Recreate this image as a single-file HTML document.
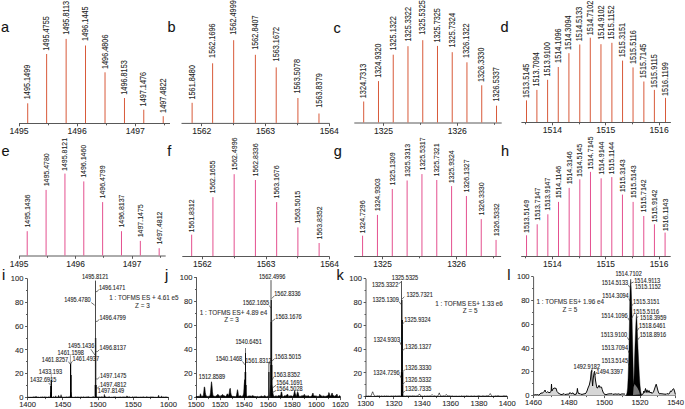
<!DOCTYPE html>
<html><head><meta charset="utf-8"><style>
html,body{margin:0;padding:0;background:#fff;}
body{width:685px;height:409px;overflow:hidden;}
svg{display:block;font-family:"Liberation Sans", sans-serif;}
text{stroke:#222;stroke-width:0.08px;}
text.L{stroke-width:0.1px;}
</style></head><body>
<svg width="685" height="409" viewBox="0 0 685 409">
<rect width="685" height="409" fill="#fff"/>
<path d="M19 123.5H170" stroke="#585858" stroke-width="1" fill="none"/>
<path d="M19.5 123.5V126.3M77.5 123.5V126.3M135.5 123.5V126.3M48.5 123.5V125.3M106.5 123.5V125.3M164.5 123.5V125.3" stroke="#585858" stroke-width="1" fill="none"/>
<text transform="translate(19 134.3) scale(1 1.1)" font-size="8.61" text-anchor="middle" fill="#1e1e1e">1495</text>
<text transform="translate(77.1 134.3) scale(1 1.1)" font-size="8.61" text-anchor="middle" fill="#1e1e1e">1496</text>
<text transform="translate(135.2 134.3) scale(1 1.1)" font-size="8.61" text-anchor="middle" fill="#1e1e1e">1497</text>
<path d="M27.71 123V103.3M46.63 123V54M66.14 123V38.9M85.5 123V45.5M105.02 123V72.3M124.47 123V98M143.78 123V109.7M163.22 123V116.2" stroke="#d85a3a" stroke-width="1" fill="none"/>
<text transform="translate(30.26 99.2) rotate(-90) scale(1 1.15)" font-size="7.3" fill="#1e1e1e">1495.1499</text>
<text transform="translate(49.18 50.7) rotate(-90) scale(1 1.15)" font-size="7.3" fill="#1e1e1e">1495.4755</text>
<text transform="translate(68.69 34.8) rotate(-90) scale(1 1.15)" font-size="7.3" fill="#1e1e1e">1495.8113</text>
<text transform="translate(88.05 40.9) rotate(-90) scale(1 1.15)" font-size="7.3" fill="#1e1e1e">1496.1445</text>
<text transform="translate(107.57 69) rotate(-90) scale(1 1.15)" font-size="7.3" fill="#1e1e1e">1496.4806</text>
<text transform="translate(127.02 94.7) rotate(-90) scale(1 1.15)" font-size="7.3" fill="#1e1e1e">1496.8153</text>
<text transform="translate(146.33 106.4) rotate(-90) scale(1 1.15)" font-size="7.3" fill="#1e1e1e">1497.1476</text>
<text transform="translate(165.77 112.9) rotate(-90) scale(1 1.15)" font-size="7.3" fill="#1e1e1e">1497.4822</text>
<path d="M181.5 123.4H329.6" stroke="#585858" stroke-width="1" fill="none"/>
<path d="M201.5 123.4V126.2M265.5 123.4V126.2M329.5 123.4V126.2M233.5 123.4V125.2M297.5 123.4V125.2" stroke="#585858" stroke-width="1" fill="none"/>
<text transform="translate(201.8 134.2) scale(1 1.1)" font-size="8.61" text-anchor="middle" fill="#1e1e1e">1562</text>
<text transform="translate(265.55 134.2) scale(1 1.1)" font-size="8.61" text-anchor="middle" fill="#1e1e1e">1563</text>
<text transform="translate(329.3 134.2) scale(1 1.1)" font-size="8.61" text-anchor="middle" fill="#1e1e1e">1564</text>
<path d="M192.11 122.9V102.8M212.61 122.9V63.3M233.67 122.9V40.2M255.39 122.9V54.8M276.21 122.9V67.4M297.92 122.9V98M318.97 122.9V113.5" stroke="#d85a3a" stroke-width="1" fill="none"/>
<text transform="translate(194.66 99.5) rotate(-90) scale(1 1.15)" font-size="7.3" fill="#1e1e1e">1561.8480</text>
<text transform="translate(215.16 57.9) rotate(-90) scale(1 1.15)" font-size="7.3" fill="#1e1e1e">1562.1696</text>
<text transform="translate(236.22 34.7) rotate(-90) scale(1 1.15)" font-size="7.3" fill="#1e1e1e">1562.4999</text>
<text transform="translate(257.94 49.8) rotate(-90) scale(1 1.15)" font-size="7.3" fill="#1e1e1e">1562.8407</text>
<text transform="translate(278.76 61.4) rotate(-90) scale(1 1.15)" font-size="7.3" fill="#1e1e1e">1563.1672</text>
<text transform="translate(300.47 93.5) rotate(-90) scale(1 1.15)" font-size="7.3" fill="#1e1e1e">1563.5078</text>
<text transform="translate(321.52 107.7) rotate(-90) scale(1 1.15)" font-size="7.3" fill="#1e1e1e">1563.8379</text>
<path d="M354.3 123H501.7" stroke="#585858" stroke-width="1" fill="none"/>
<path d="M383.5 123V125.8M457.5 123V125.8M420.5 123V124.8M494.5 123V124.8" stroke="#585858" stroke-width="1" fill="none"/>
<text transform="translate(383.5 133.8) scale(1 1.1)" font-size="8.61" text-anchor="middle" fill="#1e1e1e">1325</text>
<text transform="translate(457.2 133.8) scale(1 1.1)" font-size="8.61" text-anchor="middle" fill="#1e1e1e">1326</text>
<path d="M363.7 122.5V101.5M378.49 122.5V81.1M393.24 122.5V54.7M407.98 122.5V46.2M422.75 122.5V40.2M437.49 122.5V45.9M452.22 122.5V52.2M466.94 122.5V62.3M481.74 122.5V85.3M496.53 122.5V105.7" stroke="#d85a3a" stroke-width="1" fill="none"/>
<text transform="translate(366.25 98.2) rotate(-90) scale(1 1.15)" font-size="7.3" fill="#1e1e1e">1324.7313</text>
<text transform="translate(381.04 77.8) rotate(-90) scale(1 1.15)" font-size="7.3" fill="#1e1e1e">1324.9320</text>
<text transform="translate(395.79 50.6) rotate(-90) scale(1 1.15)" font-size="7.3" fill="#1e1e1e">1325.1322</text>
<text transform="translate(410.53 41.5) rotate(-90) scale(1 1.15)" font-size="7.3" fill="#1e1e1e">1325.3322</text>
<text transform="translate(425.3 34.7) rotate(-90) scale(1 1.15)" font-size="7.3" fill="#1e1e1e">1325.5325</text>
<text transform="translate(440.04 42.6) rotate(-90) scale(1 1.15)" font-size="7.3" fill="#1e1e1e">1325.7325</text>
<text transform="translate(454.77 47.5) rotate(-90) scale(1 1.15)" font-size="7.3" fill="#1e1e1e">1325.7324</text>
<text transform="translate(469.49 57.9) rotate(-90) scale(1 1.15)" font-size="7.3" fill="#1e1e1e">1326.1322</text>
<text transform="translate(484.29 82) rotate(-90) scale(1 1.15)" font-size="7.3" fill="#1e1e1e">1326.3330</text>
<text transform="translate(499.08 101.6) rotate(-90) scale(1 1.15)" font-size="7.3" fill="#1e1e1e">1326.5337</text>
<path d="M521.4 122.5H670.9" stroke="#585858" stroke-width="1" fill="none"/>
<path d="M552.5 122.5V125.3M605.5 122.5V125.3M659.5 122.5V125.3M525.5 122.5V124.3M579.5 122.5V124.3M632.5 122.5V124.3" stroke="#585858" stroke-width="1" fill="none"/>
<text transform="translate(552.4 133.3) scale(1 1.1)" font-size="8.61" text-anchor="middle" fill="#1e1e1e">1514</text>
<text transform="translate(605.75 133.3) scale(1 1.1)" font-size="8.61" text-anchor="middle" fill="#1e1e1e">1515</text>
<text transform="translate(659.1 133.3) scale(1 1.1)" font-size="8.61" text-anchor="middle" fill="#1e1e1e">1516</text>
<path d="M526.5 122V100.4M536.9 122V89.9M547.6 122V79.8M558.25 122V67M568.91 122V53.2M579.78 122V44.5M590.29 122V37.7M600.96 122V44.2M611.9 122V42.8M622.56 122V60.6M633.04 122V67.4M643.87 122V81.5M654.38 122V89.9M665.5 122V97.9" stroke="#d85a3a" stroke-width="1" fill="none"/>
<text transform="translate(529.05 98.1) rotate(-90) scale(1 1.15)" font-size="7.3" fill="#1e1e1e">1513.5145</text>
<text transform="translate(539.45 86.6) rotate(-90) scale(1 1.15)" font-size="7.3" fill="#1e1e1e">1513.7094</text>
<text transform="translate(550.15 76.5) rotate(-90) scale(1 1.15)" font-size="7.3" fill="#1e1e1e">1513.9100</text>
<text transform="translate(560.8 62.9) rotate(-90) scale(1 1.15)" font-size="7.3" fill="#1e1e1e">1514.1096</text>
<text transform="translate(571.46 49.9) rotate(-90) scale(1 1.15)" font-size="7.3" fill="#1e1e1e">1514.3094</text>
<text transform="translate(582.33 41.2) rotate(-90) scale(1 1.15)" font-size="7.3" fill="#1e1e1e">1514.5133</text>
<text transform="translate(592.84 35.2) rotate(-90) scale(1 1.15)" font-size="7.3" fill="#1e1e1e">1514.7102</text>
<text transform="translate(603.51 39.8) rotate(-90) scale(1 1.15)" font-size="7.3" fill="#1e1e1e">1514.9102</text>
<text transform="translate(614.45 39.5) rotate(-90) scale(1 1.15)" font-size="7.3" fill="#1e1e1e">1515.1152</text>
<text transform="translate(625.11 57.3) rotate(-90) scale(1 1.15)" font-size="7.3" fill="#1e1e1e">1515.3151</text>
<text transform="translate(635.59 64.1) rotate(-90) scale(1 1.15)" font-size="7.3" fill="#1e1e1e">1515.5116</text>
<text transform="translate(646.42 78.2) rotate(-90) scale(1 1.15)" font-size="7.3" fill="#1e1e1e">1515.7145</text>
<text transform="translate(656.93 88.1) rotate(-90) scale(1 1.15)" font-size="7.3" fill="#1e1e1e">1515.9115</text>
<text transform="translate(668.05 96.1) rotate(-90) scale(1 1.15)" font-size="7.3" fill="#1e1e1e">1516.1199</text>
<path d="M19.1 256H165.7" stroke="#585858" stroke-width="1" fill="none"/>
<path d="M19.5 256V258.8M75.5 256V258.8M132.5 256V258.8M47.5 256V257.8M103.5 256V257.8M160.5 256V257.8" stroke="#585858" stroke-width="1" fill="none"/>
<text transform="translate(19.1 266.8) scale(1 1.1)" font-size="8.4" text-anchor="middle" fill="#1e1e1e">1495</text>
<text transform="translate(75.55 266.8) scale(1 1.1)" font-size="8.4" text-anchor="middle" fill="#1e1e1e">1496</text>
<text transform="translate(132 266.8) scale(1 1.1)" font-size="8.4" text-anchor="middle" fill="#1e1e1e">1497</text>
<path d="M27.21 255.5V231.2M46.08 255.5V189.9M64.94 255.5V173.6M83.79 255.5V181.4M102.64 255.5V202.1M121.48 255.5V231.2M140.33 255.5V240.9M159.16 255.5V248.2" stroke="#e4508f" stroke-width="1" fill="none"/>
<text transform="translate(29.76 227.6) rotate(-90) scale(1 1.15)" font-size="7" fill="#1e1e1e">1495.1436</text>
<text transform="translate(48.63 186.3) rotate(-90) scale(1 1.15)" font-size="7" fill="#1e1e1e">1495.4780</text>
<text transform="translate(67.49 170.9) rotate(-90) scale(1 1.15)" font-size="7" fill="#1e1e1e">1495.8121</text>
<text transform="translate(86.34 177.8) rotate(-90) scale(1 1.15)" font-size="7" fill="#1e1e1e">1496.1460</text>
<text transform="translate(105.19 198.5) rotate(-90) scale(1 1.15)" font-size="7" fill="#1e1e1e">1496.4799</text>
<text transform="translate(124.03 227.6) rotate(-90) scale(1 1.15)" font-size="7" fill="#1e1e1e">1496.8137</text>
<text transform="translate(142.88 237.3) rotate(-90) scale(1 1.15)" font-size="7" fill="#1e1e1e">1497.1475</text>
<text transform="translate(161.71 244.6) rotate(-90) scale(1 1.15)" font-size="7" fill="#1e1e1e">1497.4812</text>
<path d="M182.3 256.5H329.6" stroke="#585858" stroke-width="1" fill="none"/>
<path d="M202.5 256.5V259.3M266.5 256.5V259.3M329.5 256.5V259.3M234.5 256.5V258.3M297.5 256.5V258.3" stroke="#585858" stroke-width="1" fill="none"/>
<text transform="translate(202.4 267.3) scale(1 1.1)" font-size="8.4" text-anchor="middle" fill="#1e1e1e">1562</text>
<text transform="translate(266 267.3) scale(1 1.1)" font-size="8.4" text-anchor="middle" fill="#1e1e1e">1563</text>
<text transform="translate(329.6 267.3) scale(1 1.1)" font-size="8.4" text-anchor="middle" fill="#1e1e1e">1564</text>
<path d="M191.66 256V234.7M212.93 256V197.2M234.17 256V174.2M255.42 256V180M276.66 256V202.1M297.9 256V227.4M319.12 256V243" stroke="#e4508f" stroke-width="1" fill="none"/>
<text transform="translate(194.21 232.4) rotate(-90) scale(1 1.15)" font-size="7" fill="#1e1e1e">1561.8312</text>
<text transform="translate(215.48 193.6) rotate(-90) scale(1 1.15)" font-size="7" fill="#1e1e1e">1562.1655</text>
<text transform="translate(236.72 170.6) rotate(-90) scale(1 1.15)" font-size="7" fill="#1e1e1e">1562.4996</text>
<text transform="translate(257.97 176.4) rotate(-90) scale(1 1.15)" font-size="7" fill="#1e1e1e">1562.8336</text>
<text transform="translate(279.21 198.5) rotate(-90) scale(1 1.15)" font-size="7" fill="#1e1e1e">1563.1676</text>
<text transform="translate(300.45 223.8) rotate(-90) scale(1 1.15)" font-size="7" fill="#1e1e1e">1563.5015</text>
<text transform="translate(321.67 239.4) rotate(-90) scale(1 1.15)" font-size="7" fill="#1e1e1e">1563.8352</text>
<path d="M354.1 256.5H501.1" stroke="#585858" stroke-width="1" fill="none"/>
<path d="M382.5 256.5V259.3M456.5 256.5V259.3M419.5 256.5V258.3M493.5 256.5V258.3" stroke="#585858" stroke-width="1" fill="none"/>
<text transform="translate(382.6 267.3) scale(1 1.1)" font-size="8.4" text-anchor="middle" fill="#1e1e1e">1325</text>
<text transform="translate(456.6 267.3) scale(1 1.1)" font-size="8.4" text-anchor="middle" fill="#1e1e1e">1326</text>
<path d="M362.59 256V235.7M377.44 256V214.9M392.29 256V189M407.12 256V180.5M421.95 256V174.1M436.78 256V180M451.6 256V186.1M466.42 256V196M481.24 256V219.1M496.06 256V239.9" stroke="#e4508f" stroke-width="1" fill="none"/>
<text transform="translate(365.14 233.4) rotate(-90) scale(1 1.15)" font-size="7" fill="#1e1e1e">1324.7296</text>
<text transform="translate(379.99 211.3) rotate(-90) scale(1 1.15)" font-size="7" fill="#1e1e1e">1324.9303</text>
<text transform="translate(394.84 185.4) rotate(-90) scale(1 1.15)" font-size="7" fill="#1e1e1e">1325.1309</text>
<text transform="translate(409.67 176.9) rotate(-90) scale(1 1.15)" font-size="7" fill="#1e1e1e">1325.3313</text>
<text transform="translate(424.5 170.5) rotate(-90) scale(1 1.15)" font-size="7" fill="#1e1e1e">1325.5317</text>
<text transform="translate(439.33 176.4) rotate(-90) scale(1 1.15)" font-size="7" fill="#1e1e1e">1325.7321</text>
<text transform="translate(454.15 183.3) rotate(-90) scale(1 1.15)" font-size="7" fill="#1e1e1e">1325.9324</text>
<text transform="translate(468.97 192.4) rotate(-90) scale(1 1.15)" font-size="7" fill="#1e1e1e">1326.1327</text>
<text transform="translate(483.79 215.5) rotate(-90) scale(1 1.15)" font-size="7" fill="#1e1e1e">1326.3330</text>
<text transform="translate(498.61 236.3) rotate(-90) scale(1 1.15)" font-size="7" fill="#1e1e1e">1326.5332</text>
<path d="M521.2 256.5H670.7" stroke="#585858" stroke-width="1" fill="none"/>
<path d="M552.5 256.5V259.3M605.5 256.5V259.3M659.5 256.5V259.3M525.5 256.5V258.3M579.5 256.5V258.3M632.5 256.5V258.3" stroke="#585858" stroke-width="1" fill="none"/>
<text transform="translate(552.4 267.3) scale(1 1.1)" font-size="8.4" text-anchor="middle" fill="#1e1e1e">1514</text>
<text transform="translate(605.7 267.3) scale(1 1.1)" font-size="8.4" text-anchor="middle" fill="#1e1e1e">1515</text>
<text transform="translate(659 267.3) scale(1 1.1)" font-size="8.4" text-anchor="middle" fill="#1e1e1e">1516</text>
<path d="M526.54 256V235.3M537.19 256V224.3M547.85 256V214.3M558.51 256V201.9M569.17 256V187.9M579.82 256V179.3M590.48 256V171.9M601.14 256V178.3M611.8 256V177.1M622.45 256V194.6M633.11 256V201.9M643.77 256V216M654.43 256V224.3M665.09 256V232.6" stroke="#e4508f" stroke-width="1" fill="none"/>
<text transform="translate(529.09 233) rotate(-90) scale(1 1.15)" font-size="7" fill="#1e1e1e">1513.5149</text>
<text transform="translate(539.74 220.7) rotate(-90) scale(1 1.15)" font-size="7" fill="#1e1e1e">1513.7147</text>
<text transform="translate(550.4 210.7) rotate(-90) scale(1 1.15)" font-size="7" fill="#1e1e1e">1513.9147</text>
<text transform="translate(561.06 198.3) rotate(-90) scale(1 1.15)" font-size="7" fill="#1e1e1e">1514.1146</text>
<text transform="translate(571.72 184.3) rotate(-90) scale(1 1.15)" font-size="7" fill="#1e1e1e">1514.3146</text>
<text transform="translate(582.37 177) rotate(-90) scale(1 1.15)" font-size="7" fill="#1e1e1e">1514.5145</text>
<text transform="translate(593.03 169.7) rotate(-90) scale(1 1.15)" font-size="7" fill="#1e1e1e">1514.7145</text>
<text transform="translate(603.69 174.7) rotate(-90) scale(1 1.15)" font-size="7" fill="#1e1e1e">1514.9144</text>
<text transform="translate(614.35 174.4) rotate(-90) scale(1 1.15)" font-size="7" fill="#1e1e1e">1515.1144</text>
<text transform="translate(625 192.3) rotate(-90) scale(1 1.15)" font-size="7" fill="#1e1e1e">1515.3143</text>
<text transform="translate(635.66 198.3) rotate(-90) scale(1 1.15)" font-size="7" fill="#1e1e1e">1515.5143</text>
<text transform="translate(646.32 212.4) rotate(-90) scale(1 1.15)" font-size="7" fill="#1e1e1e">1515.7142</text>
<text transform="translate(656.98 222.6) rotate(-90) scale(1 1.15)" font-size="7" fill="#1e1e1e">1515.9142</text>
<text transform="translate(667.64 231.2) rotate(-90) scale(1 1.15)" font-size="7" fill="#1e1e1e">1516.1143</text>
<path d="M27.5 278.7V397.5M27.5 397.5H168.5" stroke="#585858" stroke-width="1" fill="none"/>
<path d="M25.1 397.5H27.5M26 385.5H27.5M25.1 373.5H27.5M26 361.5H27.5M25.1 349.5H27.5M26 338.5H27.5M25.1 326.5H27.5M26 314.5H27.5M25.1 302.5H27.5M26 290.5H27.5M25.1 278.5H27.5M27.5 397.5V400.1M62.5 397.5V400.1M98.5 397.5V400.1M133.5 397.5V400.1M168.5 397.5V400.1M45.5 397.5V399.1M80.5 397.5V399.1M115.5 397.5V399.1M150.5 397.5V399.1" stroke="#585858" stroke-width="1" fill="none"/>
<text transform="translate(23.5 400.05) scale(1 1)" font-size="7.6" text-anchor="end" fill="#1e1e1e">0</text>
<text transform="translate(23.5 376.29) scale(1 1)" font-size="7.6" text-anchor="end" fill="#1e1e1e">20</text>
<text transform="translate(23.5 352.53) scale(1 1)" font-size="7.6" text-anchor="end" fill="#1e1e1e">40</text>
<text transform="translate(23.5 328.77) scale(1 1)" font-size="7.6" text-anchor="end" fill="#1e1e1e">60</text>
<text transform="translate(23.5 305.01) scale(1 1)" font-size="7.6" text-anchor="end" fill="#1e1e1e">80</text>
<text transform="translate(23.5 281.25) scale(1 1)" font-size="7.6" text-anchor="end" fill="#1e1e1e">100</text>
<text transform="translate(27.6 407.1) scale(1 1)" font-size="7.6" text-anchor="middle" fill="#1e1e1e">1400</text>
<text transform="translate(62.83 407.1) scale(1 1)" font-size="7.6" text-anchor="middle" fill="#1e1e1e">1450</text>
<text transform="translate(98.05 407.1) scale(1 1)" font-size="7.6" text-anchor="middle" fill="#1e1e1e">1500</text>
<text transform="translate(133.28 407.1) scale(1 1)" font-size="7.6" text-anchor="middle" fill="#1e1e1e">1550</text>
<text transform="translate(168.5 407.1) scale(1 1)" font-size="7.6" text-anchor="middle" fill="#1e1e1e">1600</text>
<path d="M27.6 397.5L27.6 397.13L27.95 397.23L28.3 396.94L28.66 397.28L29.01 397L29.36 397.1L29.71 397.29L30.07 397.02L30.42 397.3L30.77 397.06L31.12 397.28L31.47 397.27L31.83 397.07L32.18 396.83L32.53 397.25L32.88 397.19L33.24 396.95L33.59 396.76L33.94 396.98L34.29 397.09L34.65 396.74L35 397.29L35.35 396.77L35.7 396.71L36.05 396.29L36.41 396.82L36.76 397.1L37.11 396.84L37.46 397.21L37.82 396.98L38.17 396.94L38.52 397.1L38.87 397L39.22 397.28L39.58 397.29L39.93 397.2L40.28 396.92L40.63 397.07L40.99 397.14L41.34 396.97L41.69 397.05L42.04 397.14L42.39 396.85L42.75 396.91L43.1 397.18L43.45 396.98L43.8 397.01L44.16 396.8L44.51 396.89L44.86 397.15L45.21 396.74L45.56 397.25L45.92 397.07L46.27 396.87L46.62 397.23L46.97 397.03L47.33 397.3L47.68 396.92L48.03 396.87L48.38 396.98L48.73 396.8L49.09 397.14L49.44 396.91L49.79 396.96L50.14 396.77L50.5 394.88L50.85 392.07L51.2 394.59L51.55 396.83L51.91 396.92L52.26 397.29L52.61 396.91L52.96 396.94L53.31 396.73L53.67 396.83L54.02 397.15L54.37 397.09L54.72 396.92L55.08 397.3L55.43 396.69L55.78 395.8L56.13 396.9L56.48 397.28L56.84 396.87L57.19 397.24L57.54 397.17L57.89 397.08L58.25 396.33L58.6 395.37L58.95 396.58L59.3 396.99L59.65 396.8L60.01 396.84L60.36 396.8L60.71 396.56L61.06 394.7L61.42 396.52L61.77 396.79L62.12 396.75L62.47 397.23L62.83 397.22L63.18 397.18L63.53 397.18L63.88 397.03L64.23 396.97L64.59 397.17L64.94 397.32L65.29 397.07L65.64 397.1L66 396.99L66.35 396.76L66.7 396.91L67.05 397.02L67.4 396.95L67.76 396.92L68.11 397.29L68.46 396.79L68.81 396.86L69.17 396.8L69.52 396.85L69.87 397.04L70.22 396.44L70.57 394.38L70.93 392.19L71.28 394.4L71.63 396.64L71.98 397.15L72.34 397.22L72.69 397.12L73.04 397.29L73.39 397.32L73.74 397.23L74.1 397.26L74.45 397.11L74.8 397.31L75.15 396.8L75.51 396.96L75.86 397.23L76.21 397.17L76.56 397.12L76.91 397.11L77.27 397.25L77.62 396.82L77.97 396.73L78.32 397.05L78.68 397.03L79.03 397.27L79.38 397.26L79.73 397.12L80.09 397.16L80.44 396.83L80.79 397.23L81.14 397.31L81.49 396.76L81.85 397.01L82.2 397.23L82.55 397L82.9 397.31L83.26 397.01L83.61 396.74L83.96 396.81L84.31 396.91L84.66 397.17L85.02 397.1L85.37 397.22L85.72 396.86L86.07 397.01L86.43 396.86L86.78 397.13L87.13 397.19L87.48 396.84L87.83 396.74L88.19 396.82L88.54 396.84L88.89 396.84L89.24 396.88L89.6 397.19L89.95 397.01L90.3 397.11L90.65 397.3L91 397.31L91.36 397.16L91.71 397.17L92.06 396.91L92.41 396.75L92.77 397.06L93.12 396.77L93.47 396.73L93.82 396.75L94.18 397.11L94.53 397.19L94.88 397.19L95.23 397.2L95.58 397.2L95.94 396.95L96.29 396.79L96.64 396.82L96.99 397.04L97.35 396.93L97.7 396.85L98.05 397.27L98.4 396.93L98.75 396.78L99.11 396.86L99.46 396.88L99.81 397.04L100.16 397.22L100.52 396.85L100.87 397.12L101.22 396.85L101.57 396.74L101.92 397.09L102.28 397.08L102.63 396.76L102.98 396.89L103.33 397.22L103.69 397.14L104.04 396.14L104.39 394.41L104.74 395.75L105.09 397.13L105.45 396.83L105.8 396.74L106.15 396.93L106.5 397.11L106.86 397L107.21 397.24L107.56 397.31L107.91 396.75L108.27 396.94L108.62 397.01L108.97 396.77L109.32 397.06L109.67 396.8L110.03 396.83L110.38 397.2L110.73 397.17L111.08 397.15L111.44 397.18L111.79 396.97L112.14 397.17L112.49 397.07L112.84 397.24L113.2 396.78L113.55 397.11L113.9 397.05L114.25 396.98L114.61 396.78L114.96 397.07L115.31 396.78L115.66 397.02L116.01 397.01L116.37 397.01L116.72 397.31L117.07 397.06L117.42 397.21L117.78 397.32L118.13 396.85L118.48 397.22L118.83 397.04L119.19 396.89L119.54 396.99L119.89 397.13L120.24 397.01L120.59 396.99L120.95 396.86L121.3 397.26L121.65 396.99L122 397.17L122.36 397.16L122.71 396.86L123.06 397.02L123.41 396.99L123.76 396.87L124.12 396.78L124.47 397.06L124.82 396.96L125.17 397.02L125.53 397.02L125.88 396.91L126.23 397L126.58 396.46L126.93 395.85L127.29 396.22L127.64 396.85L127.99 396.8L128.34 396.76L128.7 397.17L129.05 396.99L129.4 396.76L129.75 396.82L130.1 397.24L130.46 397.25L130.81 397.06L131.16 397.28L131.51 397.18L131.87 397.28L132.22 396.92L132.57 396.86L132.92 396.79L133.28 397.23L133.63 396.9L133.98 396.93L134.33 397.24L134.68 396.8L135.04 396.75L135.39 397.19L135.74 396.76L136.09 397.09L136.45 397.03L136.8 396.73L137.15 396.83L137.5 397.23L137.85 397.07L138.21 397.02L138.56 397.12L138.91 397.21L139.26 397.13L139.62 396.89L139.97 397.31L140.32 396.99L140.67 397.06L141.02 397.31L141.38 397.12L141.73 396.95L142.08 397.02L142.43 397.28L142.79 396.74L143.14 396.85L143.49 396.74L143.84 397.26L144.19 397.16L144.55 397.3L144.9 396.86L145.25 397.16L145.6 397.24L145.96 397.07L146.31 396.78L146.66 396.84L147.01 397.17L147.37 397.23L147.72 396.78L148.07 396.98L148.42 396.91L148.77 397.27L149.13 397.29L149.48 396.91L149.83 397.07L150.18 397.28L150.54 396.76L150.89 396.94L151.24 396.85L151.59 397.27L151.94 396.81L152.3 397.28L152.65 396.81L153 397.05L153.35 397.12L153.71 396.99L154.06 396.77L154.41 397.16L154.76 397.25L155.11 397.01L155.47 397.18L155.82 397.26L156.17 397.23L156.52 397.29L156.88 397.2L157.23 397.14L157.58 397.14L157.93 396.79L158.28 396.33L158.64 395.24L158.99 396.4L159.34 397.04L159.69 397.31L160.05 397.17L160.4 397.31L160.75 396.84L161.1 396.56L161.45 396.26L161.81 396.6L162.16 396.72L162.51 397.26L162.86 396.84L163.22 397.07L163.57 397.03L163.92 396.83L164.27 397.09L164.63 397.02L164.98 396.91L165.33 396.74L165.68 397.12L166.03 396.83L166.39 396.9L166.74 396.94L167.09 397.08L167.44 397.12L167.8 397.29L168.15 397.24L168.5 397.28L168.5 397.5Z" fill="#000" stroke="#000" stroke-width="0.5" stroke-linejoin="round"/>
<path d="M51.3 397.5V380" stroke="#000" stroke-width="1.3" fill="none"/>
<path d="M51 397.5V386" stroke="#000" stroke-width="1.6" fill="none"/>
<path d="M70.6 397.5V363.5" stroke="#000" stroke-width="1.2" fill="none"/>
<path d="M70.9 397.5V375" stroke="#000" stroke-width="1.5" fill="none"/>
<path d="M95.5 397.5V280.6" stroke="#4a4a4a" stroke-width="1" fill="none"/>
<path d="M95.6 397.5V338" stroke="#222" stroke-width="1.4" fill="none"/>
<path d="M95.7 397.5V385" stroke="#000" stroke-width="2" fill="none"/>
<text transform="translate(95.2 279.1) scale(1 1.15)" font-size="5.6" text-anchor="middle" fill="#1e1e1e">1495.8121</text>
<text transform="translate(98.9 289.6) scale(1 1.15)" font-size="5.6" text-anchor="start" fill="#1e1e1e">1496.1471</text>
<path d="M95.9 291.6 L97.2 291.6 L98.6 289.6" stroke="#333" stroke-width="0.7" fill="none"/>
<text transform="translate(90.6 302.1) scale(1 1.15)" font-size="5.6" text-anchor="end" fill="#1e1e1e">1495.4780</text>
<path d="M91.3 302.6 L94.7 305.2" stroke="#333" stroke-width="0.7" fill="none"/>
<text transform="translate(99.4 320.4) scale(1 1.15)" font-size="5.6" text-anchor="start" fill="#1e1e1e">1496.4799</text>
<path d="M95.9 321.4 L97.4 321.4 L99 319.4" stroke="#333" stroke-width="0.7" fill="none"/>
<text transform="translate(94.3 347.7) scale(1 1.15)" font-size="5.6" text-anchor="end" fill="#1e1e1e">1495.1436</text>
<path d="M90.8 349.2 L94.9 355" stroke="#333" stroke-width="0.7" fill="none"/>
<text transform="translate(99.6 350.1) scale(1 1.15)" font-size="5.6" text-anchor="start" fill="#1e1e1e">1496.8137</text>
<path d="M96.2 351.6 L97.4 351.6 L99.3 349.8" stroke="#333" stroke-width="0.7" fill="none"/>
<text transform="translate(100 377.5) scale(1 1.15)" font-size="5.6" text-anchor="start" fill="#1e1e1e">1497.1475</text>
<path d="M96.2 378.9 L97.6 378.9 L99.6 377" stroke="#333" stroke-width="0.7" fill="none"/>
<text transform="translate(100 386.6) scale(1 1.15)" font-size="5.6" text-anchor="start" fill="#1e1e1e">1497.4812</text>
<path d="M96.2 387.9 L97.6 387.9 L99.6 386.2" stroke="#333" stroke-width="0.7" fill="none"/>
<text transform="translate(97.8 393.4) scale(1 1.15)" font-size="5.6" text-anchor="start" fill="#1e1e1e">1497.8149</text>
<text transform="translate(70.7 354.8) scale(1 1.15)" font-size="5.6" text-anchor="middle" fill="#1e1e1e">1461.1598</text>
<path d="M70.4 355.3 L70.4 364" stroke="#777" stroke-width="0.7" fill="none"/>
<text transform="translate(68.2 361.6) scale(1 1.15)" font-size="5.6" text-anchor="end" fill="#1e1e1e">1461.8257</text>
<path d="M68.4 361.6 L70.4 364.4" stroke="#333" stroke-width="0.7" fill="none"/>
<text transform="translate(72.6 361) scale(1 1.15)" font-size="5.6" text-anchor="start" fill="#1e1e1e">1461.4937</text>
<path d="M72.4 361.2 L70.6 364" stroke="#333" stroke-width="0.7" fill="none"/>
<text transform="translate(50.5 373.5) scale(1 1.15)" font-size="5.6" text-anchor="middle" fill="#1e1e1e">1433.193</text>
<path d="M51.3 374 L51.3 380" stroke="#888" stroke-width="0.7" fill="none"/>
<text transform="translate(56.4 382.1) scale(1 1.15)" font-size="5.6" text-anchor="end" fill="#1e1e1e">1432.6915</text>
<path d="M48.7 383 L51 385.5" stroke="#333" stroke-width="0.7" fill="none"/>
<text transform="translate(143.9 300.3) scale(1 1.15)" font-size="6.35" text-anchor="middle" fill="#333">1 : TOFMS ES + 4.61 e5</text>
<text transform="translate(142.4 308) scale(1 1.15)" font-size="6.35" text-anchor="middle" fill="#333">Z = 3</text>
<path d="M196.5 277.1V397.5M196.5 397.5H340.4" stroke="#585858" stroke-width="1" fill="none"/>
<path d="M194.1 397.5H196.5M195 385.5H196.5M194.1 373.5H196.5M195 361.5H196.5M194.1 349.5H196.5M195 337.5H196.5M194.1 325.5H196.5M195 313.5H196.5M194.1 301.5H196.5M195 289.5H196.5M194.1 277.5H196.5M196.5 397.5V400.1M220.5 397.5V400.1M244.5 397.5V400.1M268.5 397.5V400.1M292.5 397.5V400.1M316.5 397.5V400.1M340.5 397.5V400.1M208.5 397.5V399.1M232.5 397.5V399.1M256.5 397.5V399.1M280.5 397.5V399.1M304.5 397.5V399.1M328.5 397.5V399.1" stroke="#585858" stroke-width="1" fill="none"/>
<text transform="translate(192.5 400.05) scale(1 1)" font-size="7.6" text-anchor="end" fill="#1e1e1e">0</text>
<text transform="translate(192.5 375.97) scale(1 1)" font-size="7.6" text-anchor="end" fill="#1e1e1e">20</text>
<text transform="translate(192.5 351.89) scale(1 1)" font-size="7.6" text-anchor="end" fill="#1e1e1e">40</text>
<text transform="translate(192.5 327.81) scale(1 1)" font-size="7.6" text-anchor="end" fill="#1e1e1e">60</text>
<text transform="translate(192.5 303.73) scale(1 1)" font-size="7.6" text-anchor="end" fill="#1e1e1e">80</text>
<text transform="translate(192.5 279.65) scale(1 1)" font-size="7.6" text-anchor="end" fill="#1e1e1e">100</text>
<text transform="translate(196.1 407.1) scale(1 1)" font-size="7.6" text-anchor="middle" fill="#1e1e1e">1500</text>
<text transform="translate(220.15 407.1) scale(1 1)" font-size="7.6" text-anchor="middle" fill="#1e1e1e">1520</text>
<text transform="translate(244.2 407.1) scale(1 1)" font-size="7.6" text-anchor="middle" fill="#1e1e1e">1540</text>
<text transform="translate(268.25 407.1) scale(1 1)" font-size="7.6" text-anchor="middle" fill="#1e1e1e">1560</text>
<text transform="translate(292.3 407.1) scale(1 1)" font-size="7.6" text-anchor="middle" fill="#1e1e1e">1580</text>
<text transform="translate(316.35 407.1) scale(1 1)" font-size="7.6" text-anchor="middle" fill="#1e1e1e">1600</text>
<text transform="translate(340.4 407.1) scale(1 1)" font-size="7.6" text-anchor="middle" fill="#1e1e1e">1620</text>
<path d="M196.1 397.5L196.1 396.39L196.58 396.6L197.06 395.99L197.54 396.69L198.02 396.13L198.51 396.34L198.99 396.71L199.47 396.14L199.95 396.07L200.43 393.75L200.91 395.09L201.39 396.49L201.87 396.26L202.35 395.78L202.83 396.55L203.32 395.69L203.8 392.06L204.28 386.91L204.76 387.36L205.24 392.34L205.72 394.79L206.2 396.65L206.68 395.74L207.16 396.43L207.64 396.6L208.13 396.64L208.61 396.41L209.09 395.79L209.57 396.5L210.05 395.47L210.53 392.72L211.01 386.87L211.49 381.77L211.97 385.24L212.45 391.87L212.94 395.46L213.42 395.83L213.9 396.26L214.38 396.4L214.86 396.07L215.34 396.23L215.82 396.41L216.3 395.72L216.78 395.43L217.26 395.17L217.75 394.28L218.23 394.83L218.71 395.22L219.19 395.8L219.67 396.42L220.15 395.6L220.63 396.62L221.11 396.17L221.59 395.36L222.07 395.28L222.56 394.38L223.04 395.42L223.52 395.47L224 395.76L224.48 396.08L224.96 395.72L225.44 396.4L225.92 395.91L226.4 395.74L226.88 394.62L227.37 393.82L227.85 394.3L228.33 395.25L228.81 395.47L229.29 392.51L229.77 389.07L230.25 388.3L230.73 392.53L231.21 394.87L231.69 395.72L232.18 396.43L232.66 396.31L233.14 395.97L233.62 396.75L234.1 396.22L234.58 396.58L235.06 396.64L235.54 396.7L236.02 395.78L236.5 395.73L236.99 392.46L237.47 389.68L237.95 391.71L238.43 395.78L238.91 396.16L239.39 396.11L239.87 395.71L240.35 395.79L240.83 395.74L241.31 396.44L241.8 396.28L242.28 396.34L242.76 395.68L243.24 395.14L243.72 393.12L244.2 385.21L244.68 379.64L245.16 385.14L245.64 392.72L246.12 395.59L246.61 396.43L247.09 396.77L247.57 396.27L248.05 396.33L248.53 396.1L249.01 395.63L249.49 395.95L249.97 396.16L250.45 396.03L250.93 395.96L251.42 396.71L251.9 395.69L252.38 395.84L252.86 395.72L253.34 395.82L253.82 396.31L254.3 396.3L254.78 396.65L255.26 396.01L255.74 396.7L256.23 396.7L256.71 396.53L257.19 396.58L257.67 396.37L258.15 396.71L258.63 396.78L259.11 396.6L259.59 396.66L260.07 396.34L260.55 396.75L261.04 395.72L261.52 396.04L262 396.6L262.48 396.47L262.96 396.36L263.44 396.34L263.92 396.63L264.4 395.76L264.88 395.58L265.36 396.22L265.85 396.2L266.33 396.67L266.81 396.65L267.29 396.37L267.77 396.46L268.25 395.78L268.73 396.58L269.21 396.69L269.69 394.6L270.17 389.41L270.66 385.28L271.14 385.14L271.62 384.66L272.1 386.5L272.58 390.65L273.06 394.11L273.54 395.6L274.02 396.42L274.5 396.33L274.98 396.58L275.47 395.85L275.95 396.14L276.43 395.84L276.91 396.38L277.39 396.51L277.87 395.8L278.35 395.59L278.83 395.75L279.31 395.81L279.79 395.78L280.28 395.68L280.76 394.94L281.24 391.9L281.72 392.1L282.2 395.18L282.68 396.53L283.16 396.43L283.64 396.47L284.12 395.94L284.6 395.63L285.09 396.24L285.57 395.65L286.05 395.56L286.53 395.3L287.01 394.88L287.49 394.1L287.97 395.04L288.45 396.21L288.93 396.5L289.41 396.03L289.9 395.69L290.38 395.77L290.86 396.2L291.34 395.99L291.82 395.81L292.3 396.68L292.78 395.98L293.26 395.62L293.74 395.1L294.22 392.59L294.71 390.78L295.19 393.28L295.67 395.09L296.15 396.29L296.63 395.43L297.11 393.4L297.59 391.63L298.07 392.66L298.55 394.6L299.03 395.8L299.52 396.57L300 396.62L300.48 396.6L300.96 395.69L301.44 395.81L301.92 396.6L302.4 395.78L302.88 395.58L303.36 395.74L303.84 395.26L304.33 394.31L304.81 395.52L305.29 396.52L305.77 395.59L306.25 395.99L306.73 396.14L307.21 395.65L307.69 396.26L308.17 395.73L308.65 395.78L309.14 396.52L309.62 396.47L310.1 396.42L310.58 396.49L311.06 396.06L311.54 396.33L312.02 395.3L312.5 393.96L312.98 393.03L313.46 395.37L313.95 396.09L314.43 396.07L314.91 395.69L315.39 396.27L315.87 395.67L316.35 396.17L316.83 396.14L317.31 396.15L317.79 396.76L318.27 396.24L318.76 396.48L319.24 396.19L319.72 394.22L320.2 394.98L320.68 395.62L321.16 395.83L321.64 396.1L322.12 396.39L322.6 396.15L323.08 396.11L323.57 395.83L324.05 396.65L324.53 396.1L325.01 396.48L325.49 396.44L325.97 395.85L326.45 396.17L326.93 396.1L327.41 395.84L327.89 395.39L328.38 394.59L328.86 392.54L329.34 393.44L329.82 395.38L330.3 395.85L330.78 396.1L331.26 395.16L331.74 393.55L332.22 392.99L332.7 394.96L333.19 395.59L333.67 395.64L334.15 396.46L334.63 396.1L335.11 395.64L335.59 395.66L336.07 395.83L336.55 394.51L337.03 394.12L337.51 395.91L338 396.38L338.48 396.68L338.96 395.97L339.44 395.83L339.92 395.7L340.4 396.59L340.4 397.5Z" fill="#000" stroke="#000" stroke-width="0.6" stroke-linejoin="round"/>
<path d="M245.5 397.5V348" stroke="#777" stroke-width="1" fill="none"/>
<path d="M245.5 397.5V353" stroke="#111" stroke-width="1" fill="none"/>
<path d="M245.4 397.5V372" stroke="#000" stroke-width="1.6" fill="none"/>
<path d="M245.3 397.5V385" stroke="#000" stroke-width="2.6" fill="none"/>
<path d="M268.9 397.5V362" stroke="#555" stroke-width="1" fill="none"/>
<path d="M268.9 397.5V372" stroke="#111" stroke-width="1.2" fill="none"/>
<path d="M271 397.5V280.1" stroke="#555" stroke-width="1" fill="none"/>
<path d="M271.3 397.5V300" stroke="#222" stroke-width="1.2" fill="none"/>
<path d="M271.4 397.5V322" stroke="#111" stroke-width="1.5" fill="none"/>
<path d="M271.4 397.5V365" stroke="#000" stroke-width="2" fill="none"/>
<text transform="translate(272.2 279.3) scale(1 1.15)" font-size="5.6" text-anchor="middle" fill="#1e1e1e">1562.4996</text>
<text transform="translate(274.2 295.6) scale(1 1.15)" font-size="5.6" text-anchor="start" fill="#1e1e1e">1562.8336</text>
<path d="M271.7 298.6 L274.3 295.9" stroke="#333" stroke-width="0.7" fill="none"/>
<text transform="translate(269.2 305.4) scale(1 1.15)" font-size="5.6" text-anchor="end" fill="#1e1e1e">1562.1655</text>
<path d="M269.4 305.6 L270.9 308.2" stroke="#333" stroke-width="0.7" fill="none"/>
<text transform="translate(275.3 318.9) scale(1 1.15)" font-size="5.6" text-anchor="start" fill="#1e1e1e">1563.1676</text>
<path d="M271.7 321.6 L275 318.9" stroke="#333" stroke-width="0.7" fill="none"/>
<text transform="translate(235.4 343.9) scale(1 1.15)" font-size="5.6" text-anchor="start" fill="#1e1e1e">1540.6451</text>
<text transform="translate(242.2 361.3) scale(1 1.15)" font-size="5.6" text-anchor="end" fill="#1e1e1e">1540.1468</text>
<path d="M242.5 361.4 L244.9 364.8" stroke="#333" stroke-width="0.7" fill="none"/>
<text transform="translate(245.2 362.9) scale(1 1.15)" font-size="5.6" text-anchor="start" fill="#1e1e1e">1561.8312</text>
<path d="M269.6 362.6 L270.3 364.5" stroke="#333" stroke-width="0.7" fill="none"/>
<text transform="translate(274.7 358.5) scale(1 1.15)" font-size="5.6" text-anchor="start" fill="#1e1e1e">1563.5015</text>
<path d="M272 361.2 L274.5 358.5" stroke="#333" stroke-width="0.7" fill="none"/>
<text transform="translate(273.6 377) scale(1 1.15)" font-size="5.6" text-anchor="start" fill="#1e1e1e">1563.8352</text>
<path d="M272 380 L273.6 377.2" stroke="#333" stroke-width="0.7" fill="none"/>
<text transform="translate(276.2 385.3) scale(1 1.15)" font-size="5.6" text-anchor="start" fill="#1e1e1e">1564.1691</text>
<path d="M272.4 388 L276 385.3" stroke="#333" stroke-width="0.7" fill="none"/>
<text transform="translate(276.2 390.5) scale(1 1.15)" font-size="5.6" text-anchor="start" fill="#1e1e1e">1564.5028</text>
<path d="M272.4 392.6 L276 390.5" stroke="#333" stroke-width="0.7" fill="none"/>
<text transform="translate(198.8 379.3) scale(1 1.15)" font-size="5.6" text-anchor="start" fill="#1e1e1e">1512.8589</text>
<text transform="translate(233.6 314.7) scale(1 1.15)" font-size="6.35" text-anchor="middle" fill="#333">1 : TOFMS ES+ 4.89 e4</text>
<text transform="translate(231.5 322.4) scale(1 1.15)" font-size="6.35" text-anchor="middle" fill="#333">Z = 3</text>
<path d="M366 278.8V396.5M366 396.5H507.2" stroke="#585858" stroke-width="1" fill="none"/>
<path d="M363.6 396.5H366M364.5 384.5H366M363.6 372.5H366M364.5 361.5H366M363.6 349.5H366M364.5 337.5H366M363.6 325.5H366M364.5 314.5H366M363.6 302.5H366M364.5 290.5H366M363.6 278.5H366M365.5 396.5V399.1M393.5 396.5V399.1M422.5 396.5V399.1M450.5 396.5V399.1M478.5 396.5V399.1M507.5 396.5V399.1M379.5 396.5V398.1M408.5 396.5V398.1M436.5 396.5V398.1M464.5 396.5V398.1M493.5 396.5V398.1" stroke="#585858" stroke-width="1" fill="none"/>
<text transform="translate(362 399.05) scale(1 1)" font-size="7.6" text-anchor="end" fill="#1e1e1e">0</text>
<text transform="translate(362 375.51) scale(1 1)" font-size="7.6" text-anchor="end" fill="#1e1e1e">20</text>
<text transform="translate(362 351.97) scale(1 1)" font-size="7.6" text-anchor="end" fill="#1e1e1e">40</text>
<text transform="translate(362 328.43) scale(1 1)" font-size="7.6" text-anchor="end" fill="#1e1e1e">60</text>
<text transform="translate(362 304.89) scale(1 1)" font-size="7.6" text-anchor="end" fill="#1e1e1e">80</text>
<text transform="translate(362 281.35) scale(1 1)" font-size="7.6" text-anchor="end" fill="#1e1e1e">100</text>
<text transform="translate(365.6 406.1) scale(1 1)" font-size="7.6" text-anchor="middle" fill="#1e1e1e">1300</text>
<text transform="translate(393.93 406.1) scale(1 1)" font-size="7.6" text-anchor="middle" fill="#1e1e1e">1320</text>
<text transform="translate(422.26 406.1) scale(1 1)" font-size="7.6" text-anchor="middle" fill="#1e1e1e">1340</text>
<text transform="translate(450.59 406.1) scale(1 1)" font-size="7.6" text-anchor="middle" fill="#1e1e1e">1360</text>
<text transform="translate(478.92 406.1) scale(1 1)" font-size="7.6" text-anchor="middle" fill="#1e1e1e">1380</text>
<text transform="translate(507.25 406.1) scale(1 1)" font-size="7.6" text-anchor="middle" fill="#1e1e1e">1400</text>
<path d="M365.6 396.5L365.6 396.07L366.31 396.18L367.02 395.88L367.72 396.22L368.43 395.95L369.14 396.05L369.85 396.23L370.56 395.92L371.27 395.64L371.97 393.3L372.68 391.75L373.39 393.5L374.1 395.41L374.81 395.73L375.52 396.19L376.22 396.13L376.93 395.9L377.64 395.71L378.35 395.92L379.06 396.03L379.77 395.69L380.47 396.24L381.18 395.76L381.89 396.09L382.6 396.18L383.31 396.2L384.01 396.08L384.72 395.78L385.43 396.16L386.14 395.92L386.85 395.89L387.56 396.05L388.26 395.94L388.97 396.23L389.68 396.23L390.39 396.14L391.1 395.86L391.81 396.01L392.51 396.08L393.22 395.92L393.93 396L394.64 396.09L395.35 395.8L396.05 395.85L396.76 396.12L397.47 395.93L398.18 395.96L398.89 395.75L399.6 395.84L400.3 396.1L401.01 395.69L401.72 396.2L402.43 396.02L403.14 395.82L403.85 396.18L404.55 395.98L405.26 396.24L405.97 395.87L406.68 395.81L407.39 395.93L408.1 395.75L408.8 396.08L409.51 395.86L410.22 395.91L410.93 395.92L411.64 396L412.34 395.77L413.05 395.71L413.76 395.99L414.47 395.87L415.18 396.23L415.89 395.85L416.59 395.88L417.3 395.68L418.01 395.69L418.72 395.13L419.43 393.92L420.14 394.9L420.84 396.16L421.55 395.99L422.26 396.17L422.97 396.2L423.68 396.23L424.38 395.81L425.09 396.19L425.8 396.12L426.51 396.03L427.22 395.75L427.93 396.22L428.63 396L429.34 395.94L430.05 395.74L430.76 395.72L431.47 395.11L432.18 394.69L432.88 395.37L433.59 395.99L434.3 395.74L435.01 395.7L435.72 396.18L436.43 396.16L437.13 396.13L437.84 395.99L438.55 394.58L439.26 392.86L439.97 394.71L440.67 396.13L441.38 396.02L442.09 396.05L442.8 395.93L443.51 395.7L444.22 395.86L444.92 395.9L445.63 395.25L446.34 394.45L447.05 395.59L447.76 395.67L448.47 395.8L449.17 395.75L449.88 395.8L450.59 396.03L451.3 396.03L452.01 396.2L452.71 395.89L453.42 396.23L454.13 396.22L454.84 396.14L455.55 396.17L456.26 396.06L456.96 396.23L457.67 396.26L458.38 396.18L459.09 396.2L459.8 396.05L460.51 396.25L461.21 395.75L461.92 395.9L462.63 396.18L463.34 396.12L464.05 396.06L464.75 396.05L465.46 396.19L466.17 395.77L466.88 395.68L467.59 395.99L468.3 395.98L469 396.21L469.71 396.2L470.42 396.06L471.13 396.11L471.84 395.78L472.55 396.17L473.25 396.25L473.96 395.7L474.67 395.95L475.38 396.18L476.09 395.94L476.8 396.25L477.5 395.95L478.21 395.69L478.92 395.76L479.63 395.85L480.34 396.11L481.04 396.05L481.75 396.17L482.46 395.81L483.17 395.95L483.88 395.81L484.59 396.07L485.29 396.13L486 395.79L486.71 395.68L487.42 395.76L488.13 395.79L488.84 395.67L489.54 394.64L490.25 393.54L490.96 394.77L491.67 395.94L492.38 396.25L493.09 396.25L493.79 396.1L494.5 396.11L495.21 395.86L495.92 395.7L496.63 396L497.33 395.71L498.04 395.68L498.75 395.7L499.46 396.05L500.17 396.13L500.88 396.13L501.58 396.15L502.29 396.14L503 395.9L503.71 395.73L504.42 395.77L505.13 395.98L505.83 395.88L506.54 395.79L507.25 396.21L507.25 396.5Z" fill="none" stroke="#000" stroke-width="0.6" stroke-linejoin="round"/>
<path d="M401.5 396.5V281" stroke="#555" stroke-width="1" fill="none"/>
<path d="M401.8 396.5V300" stroke="#222" stroke-width="1.4" fill="none"/>
<path d="M402 396.5V320" stroke="#111" stroke-width="2" fill="none"/>
<path d="M402.1 396.5V372" stroke="#000" stroke-width="2.4" fill="none"/>
<text transform="translate(405 279.7) scale(1 1.15)" font-size="5.6" text-anchor="middle" fill="#1e1e1e">1325.5325</text>
<text transform="translate(398.3 287.4) scale(1 1.15)" font-size="5.6" text-anchor="end" fill="#1e1e1e">1325.3322</text>
<path d="M398.6 283.8 L401 282" stroke="#333" stroke-width="0.7" fill="none"/>
<text transform="translate(406.4 296.9) scale(1 1.15)" font-size="5.6" text-anchor="start" fill="#1e1e1e">1325.7321</text>
<path d="M401.9 299.2 L404.3 296.8" stroke="#333" stroke-width="0.7" fill="none"/>
<text transform="translate(398.8 301.7) scale(1 1.15)" font-size="5.6" text-anchor="end" fill="#1e1e1e">1325.1309</text>
<path d="M399 301.6 L401.2 304.6" stroke="#333" stroke-width="0.7" fill="none"/>
<text transform="translate(404.2 322.3) scale(1 1.15)" font-size="5.6" text-anchor="start" fill="#1e1e1e">1325.9324</text>
<path d="M401.9 325 L404 322.3" stroke="#333" stroke-width="0.7" fill="none"/>
<text transform="translate(400 341.7) scale(1 1.15)" font-size="5.6" text-anchor="end" fill="#1e1e1e">1324.9303</text>
<path d="M399.8 342 L401.2 345" stroke="#333" stroke-width="0.7" fill="none"/>
<text transform="translate(405 348.7) scale(1 1.15)" font-size="5.6" text-anchor="start" fill="#1e1e1e">1326.1327</text>
<path d="M402.1 351 L404.8 348.7" stroke="#333" stroke-width="0.7" fill="none"/>
<text transform="translate(405 370) scale(1 1.15)" font-size="5.6" text-anchor="start" fill="#1e1e1e">1326.3330</text>
<path d="M402.1 372.2 L404.8 369.9" stroke="#333" stroke-width="0.7" fill="none"/>
<text transform="translate(399.6 375.2) scale(1 1.15)" font-size="5.6" text-anchor="end" fill="#1e1e1e">1324.7296</text>
<path d="M399.8 375.2 L401.2 378" stroke="#333" stroke-width="0.7" fill="none"/>
<text transform="translate(405 382.4) scale(1 1.15)" font-size="5.6" text-anchor="start" fill="#1e1e1e">1326.5332</text>
<path d="M402.1 384.6 L404.8 382.4" stroke="#333" stroke-width="0.7" fill="none"/>
<text transform="translate(405 391.4) scale(1 1.15)" font-size="5.6" text-anchor="start" fill="#1e1e1e">1326.7335</text>
<path d="M402.1 393.2 L404.8 391.3" stroke="#333" stroke-width="0.7" fill="none"/>
<text transform="translate(469.1 305.7) scale(1 1.15)" font-size="6.35" text-anchor="middle" fill="#333">1 : TOFMS ES+ 1.33 e6</text>
<text transform="translate(470.1 313.4) scale(1 1.15)" font-size="6.35" text-anchor="middle" fill="#333">Z = 5</text>
<path d="M533.6 276.9V395.5M533.6 395.5H675.6" stroke="#585858" stroke-width="1" fill="none"/>
<path d="M531.2 395.5H533.6M532.1 383.5H533.6M531.2 371.5H533.6M532.1 359.5H533.6M531.2 348.5H533.6M532.1 336.5H533.6M531.2 324.5H533.6M532.1 312.5H533.6M531.2 300.5H533.6M532.1 288.5H533.6M531.2 276.5H533.6M533.5 395.5V398.1M569.5 395.5V398.1M604.5 395.5V398.1M640.5 395.5V398.1M675.5 395.5V398.1M551.5 395.5V397.1M586.5 395.5V397.1M622.5 395.5V397.1M657.5 395.5V397.1" stroke="#585858" stroke-width="1" fill="none"/>
<text transform="translate(529.6 398.05) scale(1 1)" font-size="7.6" text-anchor="end" fill="#1e1e1e">0</text>
<text transform="translate(529.6 374.33) scale(1 1)" font-size="7.6" text-anchor="end" fill="#1e1e1e">20</text>
<text transform="translate(529.6 350.61) scale(1 1)" font-size="7.6" text-anchor="end" fill="#1e1e1e">40</text>
<text transform="translate(529.6 326.89) scale(1 1)" font-size="7.6" text-anchor="end" fill="#1e1e1e">60</text>
<text transform="translate(529.6 303.17) scale(1 1)" font-size="7.6" text-anchor="end" fill="#1e1e1e">80</text>
<text transform="translate(529.6 279.45) scale(1 1)" font-size="7.6" text-anchor="end" fill="#1e1e1e">100</text>
<text transform="translate(533.5 405.1) scale(1 1)" font-size="7.6" text-anchor="middle" fill="#1e1e1e">1460</text>
<text transform="translate(569.02 405.1) scale(1 1)" font-size="7.6" text-anchor="middle" fill="#1e1e1e">1480</text>
<text transform="translate(604.54 405.1) scale(1 1)" font-size="7.6" text-anchor="middle" fill="#1e1e1e">1500</text>
<text transform="translate(640.06 405.1) scale(1 1)" font-size="7.6" text-anchor="middle" fill="#1e1e1e">1520</text>
<text transform="translate(675.58 405.1) scale(1 1)" font-size="7.6" text-anchor="middle" fill="#1e1e1e">1540</text>
<path d="M533.6 395 L534.58 394.81 L535.56 394.57 L536.54 394.71 L537.52 394.52 L538.5 395 L540 394.2 L541 392.89 L542 393.3 L543.5 392.2 L544.4 391.5 L545 390 L545.6 391.8 L546.5 392.5 L547.5 391.8 L549 392.6 L550.3 392.4 L551.1 391 L551.5 384.1 L551.9 391 L553 389 L554 387.9 L555 388.4 L556 388.2 L557 391.5 L558 392.8 L559 393.5 L560 393.97 L561 394.6 L562 394.39 L563 394.2 L564 393.57 L565 394.7 L566 394.23 L567 394.3 L568 393.98 L569 394.2 L570 392.5 L571 393.8 L572 393.5 L573 392.82 L574 394.6 L575 394.08 L576 394.5 L577 392 L577.4 388.4 L577.9 392 L579 394 L580 393.36 L581 394.6 L582 394.07 L583 394.5 L584 393.52 L585 394 L586 393 L587 391 L588 388 L589.3 385 L590.4 380 L591.2 372 L591.6 370.4 L592 378 L592.6 386 L593.3 378 L594.1 372.5 L594.6 371.3 L595.1 377 L595.6 381 L596.3 385 L597 388 L598 387.6 L599 385.3 L599.8 387.5 L600.5 387 L601.5 387.1 L602.2 389.5 L603 392 L604 393.8 L605 394.5 L606 394.4 L607 394.6 L608 393.72 L609 394.2 L610 393.5 L611 394.2 L612 393.47 L613 394.6 L614 393.9 L615 394.3 L616 393.67 L617 394.6 L618 393.68 L619 394.2 L620 394.28 L621 394.5 L622 393.59 L623 394.3 L624 393.7 L625 394.4 L625 395.5L533.6 395.5Z" fill="#d6d6d6" stroke="none"/>
<path d="M641.5 394.5 L643 394.2 L643.8 391 L644.5 392.5 L645.5 388.5 L646.2 392.5 L647 389.8 L648 392.5 L649 390.5 L650 393 L651 392 L652 393.5 L653.5 392 L654.5 389 L655.5 386 L656.2 384.2 L657 387 L658 391 L659 393.5 L660 394 L661 393.34 L662 394.2 L663 393.54 L664 394.5 L665 393.75 L666 394.6 L667 393.39 L668 394.2 L669.5 393.5 L670.5 391 L671.5 391.5 L672.5 389.5 L673.7 388.7 L674.5 391 L675.4 394.5 L675.4 395.5L641.5 395.5Z" fill="#d6d6d6" stroke="none"/>
<path d="M533.6 395 L534.58 394.81 L535.56 394.57 L536.54 394.71 L537.52 394.52 L538.5 395 L540 394.2 L541 392.89 L542 393.3 L543.5 392.2 L544.4 391.5 L545 390 L545.6 391.8 L546.5 392.5 L547.5 391.8 L549 392.6 L550.3 392.4 L551.1 391 L551.5 384.1 L551.9 391 L553 389 L554 387.9 L555 388.4 L556 388.2 L557 391.5 L558 392.8 L559 393.5 L560 393.97 L561 394.6 L562 394.39 L563 394.2 L564 393.57 L565 394.7 L566 394.23 L567 394.3 L568 393.98 L569 394.2 L570 392.5 L571 393.8 L572 393.5 L573 392.82 L574 394.6 L575 394.08 L576 394.5 L577 392 L577.4 388.4 L577.9 392 L579 394 L580 393.36 L581 394.6 L582 394.07 L583 394.5 L584 393.52 L585 394 L586 393 L587 391 L588 388 L589.3 385 L590.4 380 L591.2 372 L591.6 370.4 L592 378 L592.6 386 L593.3 378 L594.1 372.5 L594.6 371.3 L595.1 377 L595.6 381 L596.3 385 L597 388 L598 387.6 L599 385.3 L599.8 387.5 L600.5 387 L601.5 387.1 L602.2 389.5 L603 392 L604 393.8 L605 394.5 L606 394.4 L607 394.6 L608 393.72 L609 394.2 L610 393.5 L611 394.2 L612 393.47 L613 394.6 L614 393.9 L615 394.3 L616 393.67 L617 394.6 L618 393.68 L619 394.2 L620 394.28 L621 394.5 L622 393.59 L623 394.3 L624 393.7 L625 394.4" fill="none" stroke="#000" stroke-width="0.95" stroke-linejoin="round"/>
<path d="M641.5 394.5 L643 394.2 L643.8 391 L644.5 392.5 L645.5 388.5 L646.2 392.5 L647 389.8 L648 392.5 L649 390.5 L650 393 L651 392 L652 393.5 L653.5 392 L654.5 389 L655.5 386 L656.2 384.2 L657 387 L658 391 L659 393.5 L660 394 L661 393.34 L662 394.2 L663 393.54 L664 394.5 L665 393.75 L666 394.6 L667 393.39 L668 394.2 L669.5 393.5 L670.5 391 L671.5 391.5 L672.5 389.5 L673.7 388.7 L674.5 391 L675.4 394.5" fill="none" stroke="#000" stroke-width="0.95" stroke-linejoin="round"/>
<path d="M626.3 394.6 L627 393 L627.6 388 L628.1 378 L628.6 362 L629 348 L629.3 330 L629.6 315 L629.8 300 L630.1 288 L630.7 279.2 L631.2 288 L631.6 300 L632 315 L632.3 330 L632.7 345 L633 360 L633.3 375 L633.6 385 L634 378 L634.5 360 L635 345 L635.6 330 L636.1 319 L636.5 314.2 L636.9 320 L637.4 333 L638 348 L638.7 362 L639.4 376 L640.1 386 L640.8 392 L641.5 394.5 L641.5 395.5L626.3 395.5Z" fill="#000" stroke="#000" stroke-width="0.4" stroke-linejoin="round"/>
<path d="M633.6 387L634.6 384L636 386L637.5 388L639 391L640 394.5L633 395Z" fill="#777"/>
<text transform="translate(628.6 276.4) scale(1 1.15)" font-size="5.6" text-anchor="middle" fill="#1e1e1e">1514.7102</text>
<text transform="translate(634.2 282.8) scale(1 1.15)" font-size="5.6" text-anchor="start" fill="#1e1e1e">1514.9113</text>
<path d="M631 283.2 L633.6 282" stroke="#333" stroke-width="0.7" fill="none"/>
<text transform="translate(628.1 285.2) scale(1 1.15)" font-size="5.6" text-anchor="end" fill="#1e1e1e">1514.5133</text>
<path d="M628.3 285.2 L629.8 287.4" stroke="#333" stroke-width="0.7" fill="none"/>
<text transform="translate(634.9 289.3) scale(1 1.15)" font-size="5.6" text-anchor="start" fill="#1e1e1e">1515.1152</text>
<text transform="translate(628.7 298.4) scale(1 1.15)" font-size="5.6" text-anchor="end" fill="#1e1e1e">1514.3094</text>
<path d="M628.9 298.6 L630 301.2" stroke="#333" stroke-width="0.7" fill="none"/>
<text transform="translate(633.1 304.3) scale(1 1.15)" font-size="5.6" text-anchor="start" fill="#1e1e1e">1515.3151</text>
<path d="M631.1 306.6 L633 304.2" stroke="#333" stroke-width="0.7" fill="none"/>
<text transform="translate(627.6 317.7) scale(1 1.15)" font-size="5.6" text-anchor="end" fill="#1e1e1e">1514.1096</text>
<path d="M627.9 317.8 L629.5 320.8" stroke="#333" stroke-width="0.7" fill="none"/>
<text transform="translate(633.1 314) scale(1 1.15)" font-size="5.6" text-anchor="start" fill="#1e1e1e">1515.5116</text>
<path d="M631.6 318.6 L633.7 314.4" stroke="#333" stroke-width="0.7" fill="none"/>
<text transform="translate(640 319.9) scale(1 1.15)" font-size="5.6" text-anchor="start" fill="#1e1e1e">1518.3959</text>
<path d="M636.6 318.2 L638 316.4" stroke="#333" stroke-width="0.7" fill="none"/>
<text transform="translate(639.1 327.8) scale(1 1.15)" font-size="5.6" text-anchor="start" fill="#1e1e1e">1518.6461</text>
<path d="M637 331 L639 328" stroke="#333" stroke-width="0.7" fill="none"/>
<text transform="translate(627.2 337.3) scale(1 1.15)" font-size="5.6" text-anchor="end" fill="#1e1e1e">1513.9100</text>
<path d="M627.4 337.4 L629 340.2" stroke="#333" stroke-width="0.7" fill="none"/>
<text transform="translate(639.7 337.3) scale(1 1.15)" font-size="5.6" text-anchor="start" fill="#1e1e1e">1518.8916</text>
<path d="M637.5 340.2 L639.5 337.4" stroke="#333" stroke-width="0.7" fill="none"/>
<text transform="translate(628 350.4) scale(1 1.15)" font-size="5.6" text-anchor="end" fill="#1e1e1e">1513.7094</text>
<path d="M628.2 350.5 L629 353.2" stroke="#333" stroke-width="0.7" fill="none"/>
<text transform="translate(628 363.4) scale(1 1.15)" font-size="5.6" text-anchor="end" fill="#1e1e1e">1513.5145</text>
<path d="M628.2 363.5 L629 366.2" stroke="#333" stroke-width="0.7" fill="none"/>
<text transform="translate(623 373.7) scale(1 1.15)" font-size="5.6" text-anchor="end" fill="#1e1e1e">1494.3397</text>
<path d="M597 372 L595.2 375" stroke="#333" stroke-width="0.7" fill="none"/>
<text transform="translate(600 368.7) scale(1 1.15)" font-size="5.6" text-anchor="end" fill="#1e1e1e">1492.9182</text>
<path d="M592 369 L592 372" stroke="#333" stroke-width="0.7" fill="none"/>
<text transform="translate(570.3 304.3) scale(1 1.15)" font-size="6.35" text-anchor="middle" fill="#333">1 : TOFMS ES+ 1.96 e4</text>
<text transform="translate(569.9 312) scale(1 1.15)" font-size="6.35" text-anchor="middle" fill="#333">Z = 5</text>
<text class="L" x="1" y="31.9" font-size="14.5" fill="#111">a</text>
<text class="L" x="167.4" y="31.7" font-size="14.5" fill="#111">b</text>
<text class="L" x="333.6" y="32.5" font-size="14.5" fill="#111">c</text>
<text class="L" x="500.4" y="32.4" font-size="14.5" fill="#111">d</text>
<text class="L" x="1.4" y="156.4" font-size="14.5" fill="#111">e</text>
<text class="L" x="167.2" y="156.4" font-size="14.5" fill="#111">f</text>
<text class="L" x="333.8" y="156.4" font-size="14.5" fill="#111">g</text>
<text class="L" x="501" y="156.4" font-size="14.5" fill="#111">h</text>
<text class="L" x="2" y="280.1" font-size="14.5" fill="#111">i</text>
<text class="L" x="165" y="280" font-size="14.5" fill="#111">j</text>
<text class="L" x="336.6" y="280" font-size="14.5" fill="#111">k</text>
<text class="L" x="507.3" y="280.3" font-size="14.5" fill="#111">l</text>
</svg>
</body></html>
